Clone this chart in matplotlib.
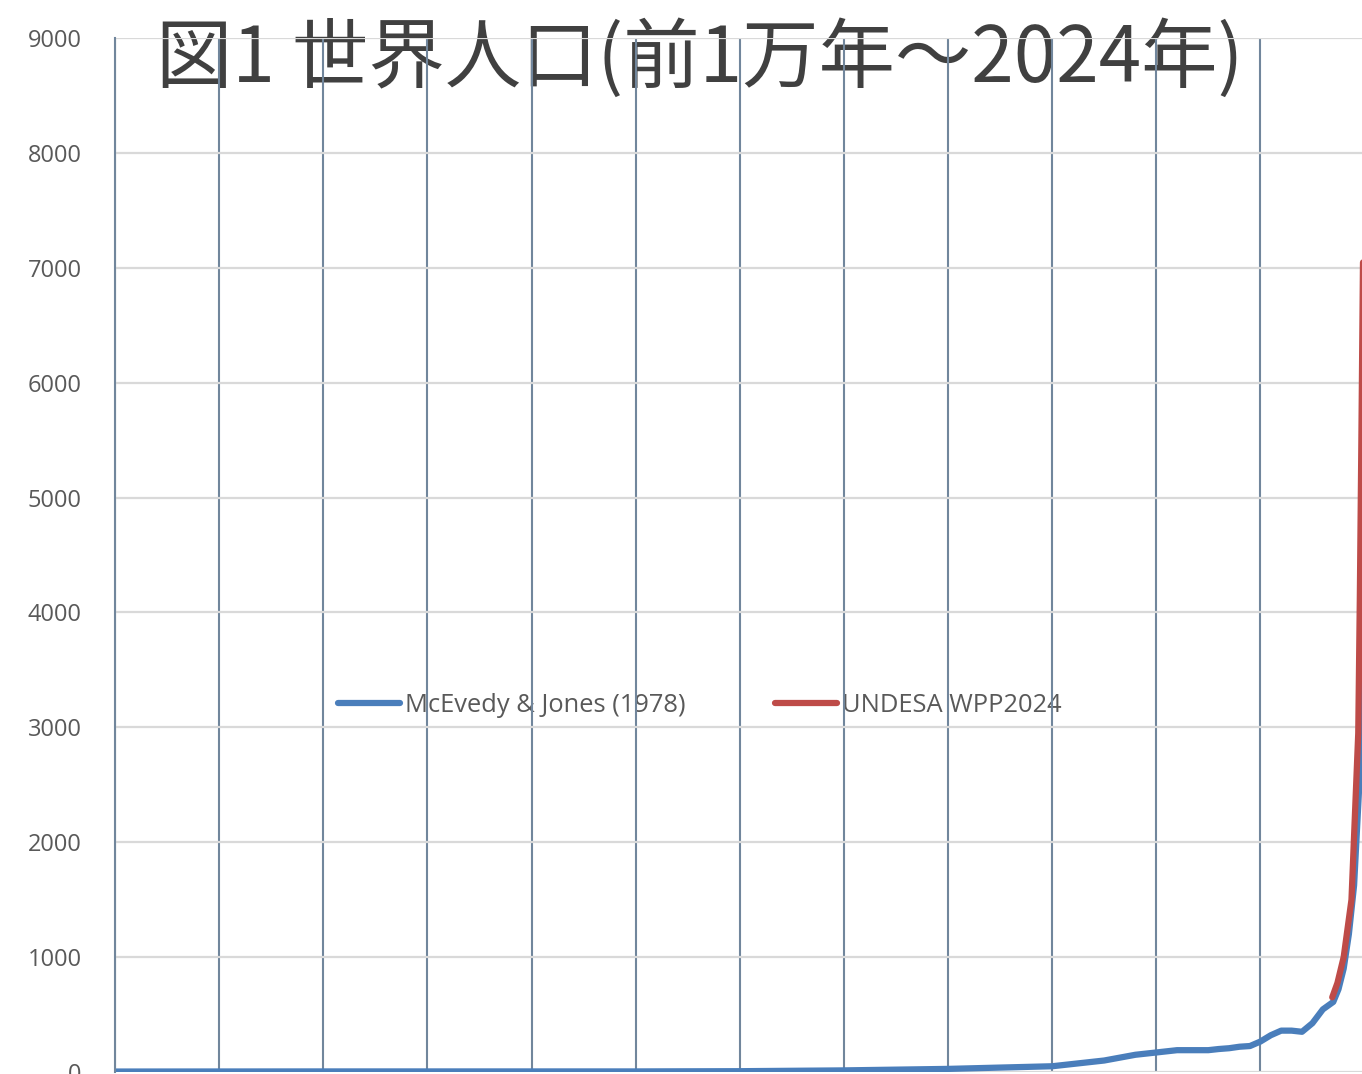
import matplotlib
matplotlib.use("Agg")
import matplotlib.pyplot as plt

plt.rcParams['font.family'] = ['Open Sans', 'Noto Sans CJK JP', 'DejaVu Sans']

# --- data (millions of people) ---
blue_label = "McEvedy & Jones (1978)"
blue_years = [-10000, -8000, -5000, -4000, -3000, -2000, -1000, -500, -200, 1,
              200, 400, 500, 600, 700, 800, 900, 1000, 1100, 1200, 1300, 1400,
              1500, 1600, 1700, 1750, 1800, 1850, 1900, 1950, 1975]
blue_pop = [4, 5, 5, 7, 14, 27, 50, 100, 150, 170,
            190, 190, 190, 200, 207, 220, 226, 265, 320, 360, 360, 350,
            425, 545, 610, 720, 900, 1200, 1625, 2500, 3900]

red_label = "UNDESA WPP2024"
red_years = [1690, 1740, 1800, 1875, 1940, 1955, 1970, 1985, 2000]
red_pop = [650, 775, 1000, 1500, 2950, 4110, 5500, 7000, 8200]

y_ticks = [0, 1000, 2000, 3000, 4000, 5000, 6000, 7000, 8000, 9000]
x_grid = list(range(-10000, 2001, 1000))
title = "図1 世界人口(前1万年～2024年)"

W, H = 1362, 1074
fig = plt.figure(figsize=(W / 100, H / 100), dpi=100)
left, right, bottom, top = 115, 1367, 1072, 38
ax = fig.add_axes([left / W, (H - bottom) / H, (right - left) / W, (bottom - top) / H])

ax.set_xlim(-10000, 2024)
ax.set_ylim(0, 9000)
ax.set_yticks(y_ticks)
ax.set_yticklabels([str(v) for v in y_ticks])
ax.set_xticks(x_grid)
ax.set_xticklabels([])
ax.tick_params(axis='both', length=0)
ax.tick_params(axis='y', pad=24, labelsize=17, labelcolor='#595959')

ax.set_axisbelow(True)
ax.grid(axis='y', color='#d9d9d9', linewidth=1.6)
ax.grid(axis='x', color='#71869c', linewidth=1.5)

for s in ['top', 'right', 'bottom']:
    ax.spines[s].set_visible(False)
ax.spines['left'].set_color('#71869c')
ax.spines['left'].set_linewidth(1.5)

ax.plot(blue_years, blue_pop, color='#4a7ebb', linewidth=4.5, label=blue_label,
        solid_capstyle='round', solid_joinstyle='round', zorder=2)
ax.plot(red_years, red_pop, color='#be4b48', linewidth=4.5, label=red_label,
        solid_capstyle='round', solid_joinstyle='round', zorder=2.1)

leg = ax.legend(loc='center', bbox_to_anchor=((700 - left) / (right - left), (bottom - 705) / (bottom - top)),
                ncol=2, frameon=False, fontsize=18.4, handlelength=2.43, handletextpad=0.2,
                columnspacing=3.5, labelcolor='#595959')
leg.set_zorder(0.2)

ax.text((700 - left) / (right - left), (bottom - 60) / (bottom - top), title,
        transform=ax.transAxes, ha='center', va='center', fontsize=55,
        color='#404040', family=['Noto Sans CJK JP', 'DejaVu Sans'],
        zorder=0.1, clip_on=False)

fig.savefig('out.png', dpi=100)
